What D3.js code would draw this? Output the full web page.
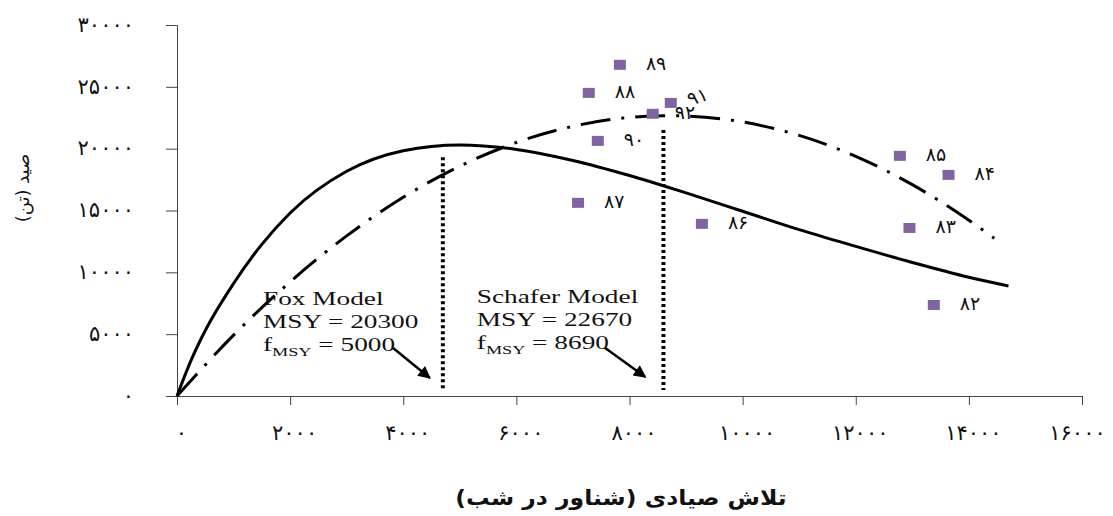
<!DOCTYPE html>
<html>
<head>
<meta charset="utf-8">
<script src="https://cdn.jsdelivr.net/npm/d3@7"></script>
<style>
  body { margin: 0; background: #fff; }
  .tick text { font-family: "DejaVu Sans", sans-serif; font-size: 21px; letter-spacing: 7.5px; fill: #111; }
  .note { font-family: "Liberation Serif", "Times New Roman", serif; font-size: 19.5px; fill: #111; }
  .fa { font-family: "DejaVu Sans", sans-serif; fill: #111; }
</style>
</head>
<body>
<div class="chart"></div>
<script>
// catch vs effort chart, Fox and Schaefer surplus production curves

var svgWidth = 1113;
var svgHeight = 516;

var margin = { top: 25, right: 31, bottom: 120, left: 177 };
var width = svgWidth - margin.left - margin.right;
var height = svgHeight - margin.top - margin.bottom;

// observed yearly catch / effort
var years = ["۸۹", "۸۸", "۹۱", "۹۲", "۹۰", "۸۷", "۸۶", "۸۵", "۸۴", "۸۳", "۸۲"];
var effort = [7830, 7280, 8730, 8410, 7440, 7090, 9280, 12780, 13640, 12950, 13380];
var catchTons = [26780, 24510, 23700, 22820, 20630, 15620, 13920, 19420, 17880, 13590, 7360];

// Fox model curve
var foxEffort = [0, 250, 500, 1000, 1500, 2000, 3000, 4000, 5000, 6000, 7000, 8000, 9000, 10000, 11000, 12000, 13000, 14000, 14700];
var foxCatch = [0, 2900, 5300, 9100, 12260, 14800, 18170, 19830, 20300, 19940, 19050, 17830, 16420, 14940, 13450, 12100, 10800, 9600, 8900];

// Schaefer model curve
var schEffort = [0, 1000, 2000, 3000, 4000, 5000, 6000, 7000, 8000, 8690, 9000, 10000, 11000, 12000, 13000, 14000, 14450];
var schCatch = [0, 4920, 9230, 12950, 16070, 18580, 20500, 21810, 22530, 22670, 22640, 22160, 21070, 19380, 17090, 14210, 12750];

// vertical dotted lines at f_MSY
var dropEffort = [4700, 8600];
var dropTop = [19300, 21500];

// arrows pointing at the dotted lines
var arrowFrom = [[3820, 3880], [7570, 3880]];
var arrowTo = [[4470, 1460], [8280, 1540]];

var xTicks = [0, 2000, 4000, 6000, 8000, 10000, 12000, 14000, 16000];
var xTickLabels = ["۰", "۲۰۰۰", "۴۰۰۰", "۶۰۰۰", "۸۰۰۰", "۱۰۰۰۰", "۱۲۰۰۰", "۱۴۰۰۰", "۱۶۰۰۰"];
var yTicks = [0, 5000, 10000, 15000, 20000, 25000, 30000];
var yTickLabels = ["۰", "۵۰۰۰", "۱۰۰۰۰", "۱۵۰۰۰", "۲۰۰۰۰", "۲۵۰۰۰", "۳۰۰۰۰"];

var svg = d3.select(".chart")
  .append("svg")
  .attr("width", svgWidth)
  .attr("height", svgHeight);

var chartGroup = svg.append("g")
  .attr("transform", `translate(${margin.left}, ${margin.top})`);

var xScale = d3.scaleLinear().domain([0, 16000]).range([0, width]);
var yScale = d3.scaleLinear().domain([0, 30000]).range([height, 0]);

// axes
var bottomAxis = d3.axisBottom(xScale)
  .tickValues(xTicks)
  .tickSize(9)
  .tickPadding(20)
  .tickFormat((d, i) => xTickLabels[i]);

var leftAxis = d3.axisLeft(yScale)
  .tickValues(yTicks)
  .tickSize(11)
  .tickPadding(32)
  .tickFormat((d, i) => yTickLabels[i]);

var xAxisG = chartGroup.append("g")
  .attr("transform", `translate(0, ${height})`)
  .call(bottomAxis);

var yAxisG = chartGroup.append("g").call(leftAxis);

[xAxisG, yAxisG].forEach(function(g) {
  g.select(".domain").attr("stroke", "#444");
  g.selectAll(".tick line").attr("stroke", "#444");
});
yAxisG.selectAll(".tick text").attr("dy", "0.3em");
xAxisG.selectAll(".tick text").attr("dx", "4px");
// last label sits against the right edge, tighten it so it stays inside
xAxisG.selectAll(".tick text")
  .filter(d => d === 16000)
  .attr("dx", "-5px")
  .style("letter-spacing", "5.5px");

// model curves
var curveLine = d3.line()
  .x(d => xScale(d[0]))
  .y(d => yScale(d[1]))
  .curve(d3.curveMonotoneX);

chartGroup.append("path")
  .datum(foxEffort.map((f, i) => [f, foxCatch[i]]))
  .attr("d", curveLine)
  .attr("fill", "none")
  .attr("stroke", "#000")
  .attr("stroke-width", 3);

chartGroup.append("path")
  .datum(schEffort.map((f, i) => [f, schCatch[i]]))
  .attr("d", curveLine)
  .attr("fill", "none")
  .attr("stroke", "#000")
  .attr("stroke-width", 3)
  .attr("stroke-dasharray", "30,11,3,11");

// dotted f_MSY lines
chartGroup.selectAll(".drop")
  .data(dropEffort)
  .enter()
  .append("line")
  .attr("x1", d => xScale(d))
  .attr("x2", d => xScale(d))
  .attr("y1", (d, i) => yScale(dropTop[i]))
  .attr("y2", yScale(480))
  .attr("stroke", "#000")
  .attr("stroke-width", 4)
  .attr("stroke-dasharray", "3,3");

// arrow heads
svg.append("defs").append("marker")
  .attr("id", "head")
  .attr("viewBox", "0 0 10 10")
  .attr("refX", 9)
  .attr("refY", 5)
  .attr("markerWidth", 5.5)
  .attr("markerHeight", 5)
  .attr("markerUnits", "strokeWidth")
  .attr("orient", "auto")
  .append("path")
  .attr("d", "M0,0 L10,5 L0,10 Z")
  .attr("fill", "#000");

chartGroup.selectAll(".arrow")
  .data(arrowFrom)
  .enter()
  .append("line")
  .attr("x1", d => xScale(d[0]))
  .attr("y1", d => yScale(d[1]))
  .attr("x2", (d, i) => xScale(arrowTo[i][0]))
  .attr("y2", (d, i) => yScale(arrowTo[i][1]))
  .attr("stroke", "#000")
  .attr("stroke-width", 2.5)
  .attr("marker-end", "url(#head)");

// model annotations (the figure's text is stretched sideways)
function modelNote(x0, y0, name, msy, fmsy) {
  var g = chartGroup.append("g")
    .attr("transform", `translate(${x0}, ${y0}) scale(1.4, 1)`);
  g.append("text").attr("class", "note").attr("y", 0).text(name);
  g.append("text").attr("class", "note").attr("y", 23).text("MSY = " + msy);
  var t = g.append("text").attr("class", "note").attr("y", 46);
  t.append("tspan").text("f");
  t.append("tspan").attr("font-size", "13px").attr("dy", 5).text("MSY");
  t.append("tspan").attr("dy", -5).text(" = " + fmsy);
}
modelNote(xScale(1520), yScale(7330), "Fox Model", "20300", "5000");
modelNote(xScale(5300), yScale(7500), "Schafer Model", "22670", "8690");

// observed points
chartGroup.selectAll("rect.obs")
  .data(effort)
  .enter()
  .append("rect")
  .attr("class", "obs")
  .attr("x", d => xScale(d) - 6)
  .attr("y", (d, i) => yScale(catchTons[i]) - 5)
  .attr("width", 12)
  .attr("height", 10)
  .attr("fill", "#8064A2");

chartGroup.selectAll("text.year")
  .data(effort)
  .enter()
  .append("text")
  .attr("class", "fa year")
  .attr("font-size", "19px")
  .attr("letter-spacing", "1px")
  .attr("transform", function(d, i) {
    var px = xScale(d) + (years[i] === "۹۲" ? 22 : 26);
    var py = yScale(catchTons[i]) + 5;
    if (years[i] === "۹۱") {
      px = xScale(d) + 19;
      py = yScale(catchTons[i]) + 3;
      return `translate(${px}, ${py}) rotate(-18)`;
    }
    return `translate(${px}, ${py})`;
  })
  .text((d, i) => years[i]);

// axis titles
svg.append("text")
  .attr("class", "fa")
  .attr("font-size", "18px")
  .attr("text-anchor", "middle")
  .attr("transform", "translate(29, 188) rotate(-90)")
  .text("صید (تن)");

svg.append("text")
  .attr("class", "fa")
  .attr("font-size", "21px")
  .attr("font-weight", "bold")
  .attr("text-anchor", "middle")
  .attr("transform", "translate(621, 505) scale(1.12, 1)")
  .text("تلاش صیادی (شناور در شب)");
</script>
</body>
</html>
